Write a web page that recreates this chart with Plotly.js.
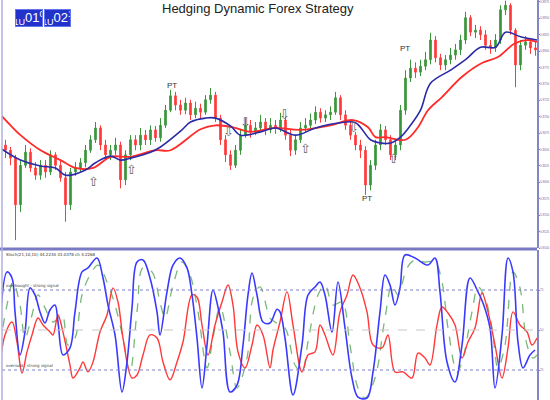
<!DOCTYPE html>
<html><head><meta charset="utf-8">
<script src="https://cdn.plot.ly/plotly-3.0.1.min.js"></script>
<style>html,body{margin:0;padding:0;background:#fff}#chart{width:550px;height:400px}</style>
</head><body><div id="chart"></div>
<script>
// ---- price candles (bar index 0..106) ----
const opens = [.8657,.8649,.8637,.8566,.8626,.8646,.8622,.8611,.8626,.8616,.8642,.8626,.8607,.8566,.8616,.8622,.8630,.8649,.8665,.8683,.8657,.8642,.8649,.8657,.8604,.8642,.8665,.8657,.8672,.8665,.8680,.8668,.8687,.8710,.8732,.8718,.8710,.8721,.8703,.8713,.8707,.8726,.8733,.8698,.8665,.8642,.8626,.8649,.8672,.8687,.8677,.8683,.8692,.8680,.8687,.8683,.8695,.8672,.8649,.8665,.8683,.8687,.8695,.8707,.8698,.8703,.8707,.8729,.8703,.8687,.8672,.8657,.8649,.8596,.8626,.8657,.8680,.8665,.8642,.8657,.8710,.8759,.8774,.8768,.8777,.8787,.8817,.8790,.8779,.8787,.8794,.8802,.8817,.8851,.8829,.8832,.8825,.8809,.8805,.8817,.8863,.8870,.8832,.8779,.8809,.8814,.8805];
const highs = [.8665,.8654,.8642,.8634,.8657,.8652,.8631,.8634,.8634,.8649,.8646,.8634,.8616,.8622,.8631,.8637,.8657,.8672,.8692,.8687,.8665,.8657,.8668,.8662,.8649,.8672,.8672,.8683,.8680,.8687,.8686,.8698,.8718,.8741,.8738,.8726,.8729,.8726,.8723,.8720,.8733,.8744,.8738,.8703,.8672,.8649,.8657,.8680,.8698,.8695,.8692,.8703,.8698,.8698,.8695,.8706,.8700,.8680,.8672,.8692,.8698,.8705,.8716,.8713,.8710,.8716,.8738,.8733,.8710,.8695,.8677,.8665,.8655,.8634,.8665,.8689,.8686,.8672,.8665,.8718,.8771,.8787,.8783,.8787,.8799,.8828,.8823,.8796,.8794,.8805,.8811,.8825,.8860,.8855,.8840,.8838,.8832,.8817,.8826,.8870,.8877,.8873,.8835,.8817,.8823,.8820,.8814];
const lows = [.8637,.8626,.8512,.8555,.8622,.8616,.8604,.8604,.8607,.8611,.8619,.8601,.8540,.8558,.8610,.8616,.8623,.8645,.8660,.8649,.8634,.8634,.8642,.8591,.8596,.8634,.8649,.8649,.8657,.8657,.8662,.8662,.8683,.8707,.8710,.8703,.8704,.8695,.8698,.8698,.8703,.8720,.8692,.8657,.8631,.8619,.8622,.8642,.8668,.8668,.8672,.8677,.8672,.8675,.8674,.8677,.8665,.8640,.8642,.8660,.8677,.8682,.8689,.8691,.8692,.8695,.8703,.8695,.8680,.8665,.8649,.8637,.8581,.8588,.8619,.8649,.8657,.8634,.8634,.8649,.8703,.8753,.8759,.8762,.8771,.8780,.8783,.8771,.8771,.8780,.8787,.8794,.8811,.8823,.8820,.8817,.8802,.8796,.8799,.8811,.8855,.8825,.8745,.8771,.8802,.8796,.8793];
const closes = [.8649,.8637,.8566,.8626,.8646,.8622,.8611,.8626,.8616,.8642,.8626,.8607,.8566,.8616,.8622,.8630,.8649,.8665,.8683,.8657,.8642,.8649,.8657,.8604,.8642,.8665,.8657,.8672,.8665,.8680,.8668,.8687,.8710,.8732,.8718,.8710,.8721,.8703,.8713,.8707,.8726,.8733,.8698,.8665,.8642,.8626,.8649,.8672,.8687,.8677,.8683,.8692,.8680,.8687,.8683,.8695,.8672,.8649,.8665,.8683,.8687,.8695,.8707,.8698,.8703,.8707,.8729,.8703,.8687,.8672,.8657,.8649,.8596,.8626,.8657,.8680,.8665,.8642,.8657,.8710,.8759,.8774,.8768,.8777,.8787,.8817,.8790,.8779,.8787,.8794,.8802,.8817,.8851,.8829,.8832,.8825,.8809,.8805,.8817,.8863,.8870,.8832,.8779,.8809,.8814,.8805,.8802];

// ---- moving averages (read at sparse bars) ----
const fastMaBar = [-1,3,7,10,12,16,18,21,23,25,29,31,35,37,40,42,45,47,51,54,58,62,67,70,73,75,77,79,81,83,85,89,92,95,98,100,103,106.3];
const fastMa = [.8652,.8634,.8625,.8622,.8611,.8619,.8630,.8640,.8634,.8637,.8646,.8654,.8678,.8692,.8698,.8698,.8686,.8672,.8677,.8683,.8672,.8683,.8691,.8691,.8665,.8660,.8660,.8669,.8687,.8710,.8751,.8771,.8787,.8806,.8806,.8829,.8822,.8817];
const slowMaBar = [-1,1,3,7,11,14,17.5,21,25,30,33,39,42,45.5,49,54,59,65,69.5,72.5,74,76,80,82.5,84.5,87.3,91.3,95.3,98.5,101.9,104.5,106.3];
const slowMa = [.8703,.8687,.8672,.8649,.8634,.8622,.8622,.8639,.8639,.8649,.8649,.8681,.8687,.8684,.8677,.8683,.8680,.8687,.8695,.8684,.8669,.8669,.8665,.8684,.8710,.8730,.8761,.8782,.8791,.8812,.8817,.8814];

// ---- signals ----
const arrowBar = [17.5,25.1,44.5,48,55.7,60,69.5,77.5];
const arrowPrice = [.8601,.8619,.8677,.8691,.8703,.8652,.8683,.8637];
const arrowText = ['⇧','⇧','⇩','⇩','⇩','⇧','⇩','⇧'];
const ptBar = [33.3,79.9,72.3];
const ptPrice = [.8747,.8804,.8575];

// ---- oscillator ----
const kBar = [-1.1,0.3,1.3,1.9,2.9,3.9,4.9,5.9,6.9,7.9,8.9,9.9,10.5,11.5,12.9,13.9,15.3,16.5,18.3,19.5,20.5,21.9,23.3,24.3,25.3,26.3,27.5,28.9,30.3,30.9,32.3,33.5,34.9,36.3,37.3,38.3,39.3,40.3,41.5,42.5,43.5,44.9,46.3,47.5,48.5,49.3,50.3,51.5,52.9,54.3,54.9,55.9,57.5,59.3,60.5,61.9,62.9,63.9,65.3,66.5,67.9,69.3,70.5,72.3,73.5,74.9,75.9,76.9,77.9,78.9,79.9,81.9,84.5,85.9,86.9,88.3,89.9,91.3,92.9,94.5,95.5,96.9,97.9,99.3,100.5,101.5,102.5,103.5,104.9,105.9];
const kVal = [53.1,86.3,82.5,61.3,34.4,48.8,76.3,71.9,61.3,54.4,62.5,65.6,55,34.4,38.8,61.3,86.3,88.8,95,82.5,65.6,46.9,11.3,30,63.8,92.5,93.8,82.5,61.3,46.9,73.8,90.6,95,88.8,71.9,45,13.8,40.6,75,64.4,48.8,11.3,15.6,40.6,71.9,85.6,71.9,55,54.4,63,61.3,45,9.4,40.6,71.9,76.9,80,71.9,48.8,80,51.3,20,8.1,7.5,23.8,61.3,84.4,78.1,65.6,76.3,96.9,95,90.6,95,73.8,30,17.5,40.6,82.5,73.8,66.9,51.3,13.8,46.9,95,86.3,42.5,26.3,34.4,37.5];
const dBar = [-1.1,0.3,1.5,2.9,3.9,5.3,6.5,7.9,9.5,11.3,12.5,13.9,15.3,16.9,18.5,20.3,21.9,23.5,24.9,26.3,27.5,29.3,30.9,31.9,33.5,35.3,36.9,38.5,40.3,41.5,42.9,44.9,46.3,48.3,49.5,50.9,52.9,53.9,55.9,57.9,59.3,60.5,62.5,63.9,65.5,67.3,68.9,70.5,71.9,73.9,75.9,77.3,78.5,80.3,81.9,83.9,85.9,87.3,88.5,90.3,91.3,93.3,94.5,95.9,97.3,98.5,99.9,101.5,102.9,104.3,105.5,106.3];
const dVal = [40.6,65.6,80,65.6,45,59.4,71.9,63.8,55,59.4,40.6,45,71.9,84.4,90.6,80,65.6,45,23.8,61.3,88.8,86.3,67.5,57.5,78.1,92.5,84.4,61.3,26.3,45,64.4,36.3,13.8,32.5,70,76.9,57.5,55,51.3,28.1,23.8,42.5,71.9,78.1,65.6,67.5,40.6,13.8,7.5,20,57.5,78.1,71.9,88.8,93.8,92.5,92.5,80,51.3,23.8,30,61.3,76.9,70,51.3,26.3,40.6,86.3,76.3,40.6,32.5,34.4];
const rBar = [-1.1,-0.1,1.3,2.3,3.3,4.3,5.3,6.5,7.5,8.9,9.5,10.5,11.3,12.9,13.5,14.9,15.5,16.5,17.5,18.9,20.3,21.5,22.5,23.5,25.3,26.3,27.5,28.9,30.3,31.5,32.9,34.3,35.5,37.3,38.3,39.3,40.5,41.9,43.3,44.5,45.5,46.5,47.9,49.3,50.3,51.5,52.9,53.5,54.9,56.3,57.5,59.3,60.5,61.9,62.9,63.9,65.5,66.9,68.3,69.5,70.9,72.3,73.5,75.3,76.5,77.9,79.5,81.3,82.5,83.9,84.9,86.3,87.3,88.5,89.9,91.3,92.5,93.9,95.3,96.5,97.9,99.3,100.5,101.5,102.9,104.3,105.3,106.3];
const rVal = [28.1,46.9,55,42.5,23.1,36.3,46.9,57.5,53.1,48.8,46.9,59.4,51.3,28.1,20,26.3,30,23.8,30,48.8,59.4,76.3,67.5,45,20,21.9,34.4,46.9,45,30,18.8,30,42.5,71.9,70.6,53.1,34.4,53.1,67.5,78.1,65.6,36.3,26.3,40.6,53.1,46.9,26.3,37.5,55,73.8,53.1,23.8,34.4,36.3,53.1,46.9,34.4,61.3,71.9,84.4,76.3,61.3,40.6,38.8,46.9,23.8,23.8,20,35.6,32.5,28.1,53.1,64.4,60.6,53.1,32.5,42.5,51.3,73.1,61.3,40.6,20,38.8,61.3,53.1,48.8,40.6,45];

const priceTicks = [.8875,.8850,.8825,.8800,.8775,.8750,.8725,.8700,.8675,.8650,.8625,.8600,.8575,.8550,.8525,.8500];
const oscTicks = [25,50,75];
const levels = [75,25];
const chartTitle = 'Hedging Dynamic Forex Strategy';

const bars = opens.map((_, k) => k);
const axisBlue = '#8484c8';
const tickFont = {family:'Liberation Sans Narrow, Arial Narrow, sans-serif', size:3, color:'#6a6aa8'};

const traces = [
  {type:'candlestick', x:bars, open:opens, high:highs, low:lows, close:closes,
   xaxis:'x', yaxis:'y', hoverinfo:'none', whiskerwidth:0,
   increasing:{line:{color:'#3a963a', width:1}, fillcolor:'#3a963a'},
   decreasing:{line:{color:'#ff3a3a', width:1}, fillcolor:'#ff3a3a'}},
  {type:'scatter', mode:'lines', x:slowMaBar, y:slowMa, line:{color:'#ff2a2a', width:1.8, shape:'spline'}, hoverinfo:'none'},
  {type:'scatter', mode:'lines', x:fastMaBar, y:fastMa, line:{color:'#2b2ba6', width:1.6, shape:'spline'}, hoverinfo:'none'},
  {type:'scatter', mode:'lines', x:dBar, y:dVal, yaxis:'y2', line:{color:'#7ab87a', width:1.3, dash:'dash', shape:'spline'}, hoverinfo:'none'},
  {type:'scatter', mode:'lines', x:rBar, y:rVal, yaxis:'y2', line:{color:'#ff3838', width:1.4, shape:'spline'}, hoverinfo:'none'},
  {type:'scatter', mode:'lines', x:kBar, y:kVal, yaxis:'y2', line:{color:'#3a3aff', width:1.6, shape:'spline'}, hoverinfo:'none'}
];

const shapes = [];
levels.forEach(v => shapes.push({type:'line', xref:'paper', x0:0, x1:1, yref:'y2', y0:v, y1:v, line:{color:'#8080cc', width:1.2, dash:'dot'}}));
shapes.push({type:'line', xref:'paper', x0:0, x1:1, yref:'y2', y0:50, y1:50, line:{color:'#c8c8c8', width:1, dash:'dash'}});
shapes.push({type:'line', xref:'paper', x0:-0.004, x1:1, yref:'paper', y0:0.3775, y1:0.3775, line:{color:'#7a7ac4', width:3}});
shapes.push({type:'line', xref:'paper', x0:0, x1:0, yref:'paper', y0:0, y1:1, line:{color:'#b0b0e0', width:1.5}});

const annotations = [];
annotations.push({x:0.478, y:1, xref:'paper', yref:'paper', xanchor:'center', yanchor:'top', text:chartTitle, showarrow:false,
  borderpad:0, font:{family:'Liberation Sans Narrow, Arial Narrow, sans-serif', size:13, color:'#222'}});
arrowBar.forEach((b, k) => annotations.push({x:b, y:arrowPrice[k], xref:'x', yref:'y', text:arrowText[k], showarrow:false,
  font:{family:'DejaVu Sans', size:13, color:'#666'}}));
ptBar.forEach((b, k) => annotations.push({x:b, y:ptPrice[k], xref:'x', yref:'y', text:'PT', showarrow:false,
  font:{family:'Liberation Sans Narrow, Arial Narrow, sans-serif', size:8, color:'#333'}}));
annotations.push({x:0.0243, y:0.978, xref:'paper', yref:'paper', text:'<sub>1U</sub>01<sup>0</sup>', showarrow:false,
  bgcolor:'#2233cc', bordercolor:'#6677ee', borderwidth:1, width:26, height:16, borderpad:0,
  font:{family:'Liberation Sans Narrow, sans-serif', size:13, color:'#fff'}});
annotations.push({x:0.0785, y:0.978, xref:'paper', yref:'paper', text:'<sub>1U</sub>02<sup>1</sup>', showarrow:false,
  bgcolor:'#2233cc', bordercolor:'#6677ee', borderwidth:1, width:25, height:16, borderpad:0,
  font:{family:'Liberation Sans Narrow, sans-serif', size:13, color:'#fff'}});
annotations.push({x:0.004, y:97, xref:'paper', yref:'y2', xanchor:'left', text:'Stoch(21,10,10) 44.2230 33.0378 ch 4.2268', showarrow:false,
  font:{family:'DejaVu Sans', size:4, color:'#333'}});
annotations.push({x:0.004, y:75, xref:'paper', yref:'y2', xanchor:'left', yanchor:'bottom', text:'overbought · strong signal', showarrow:false,
  font:{family:'DejaVu Sans', size:4, color:'#444'}});
annotations.push({x:0.004, y:25, xref:'paper', yref:'y2', xanchor:'left', yanchor:'bottom', text:'oversold · strong signal', showarrow:false,
  font:{family:'DejaVu Sans', size:4, color:'#444'}});

const layout = {
  width:550, height:400, margin:{l:2, r:13, t:0, b:0}, paper_bgcolor:'#fff', plot_bgcolor:'#fff', showlegend:false,
  boxgap:0.55,
  xaxis:{range:[-0.7,106.3], visible:false, rangeslider:{visible:false}, fixedrange:true},
  yaxis:{domain:[0.38,1], range:[0.8500,0.8878], side:'right', showgrid:false, zeroline:false,
    tickvals:priceTicks, tickformat:'.4f', ticks:'outside', ticklen:1, tickcolor:axisBlue,
    tickfont:tickFont, showline:true, linecolor:axisBlue, linewidth:1.5},
  yaxis2:{domain:[0,0.375], range:[6.25,100], side:'right', showgrid:false, zeroline:false,
    tickvals:oscTicks, ticks:'outside', ticklen:1, tickcolor:axisBlue,
    tickfont:tickFont, showline:true, linecolor:axisBlue, linewidth:1.5},
  shapes:shapes, annotations:annotations
};
Plotly.newPlot('chart', traces, layout, {staticPlot:true, displayModeBar:false});
</script></body></html>
